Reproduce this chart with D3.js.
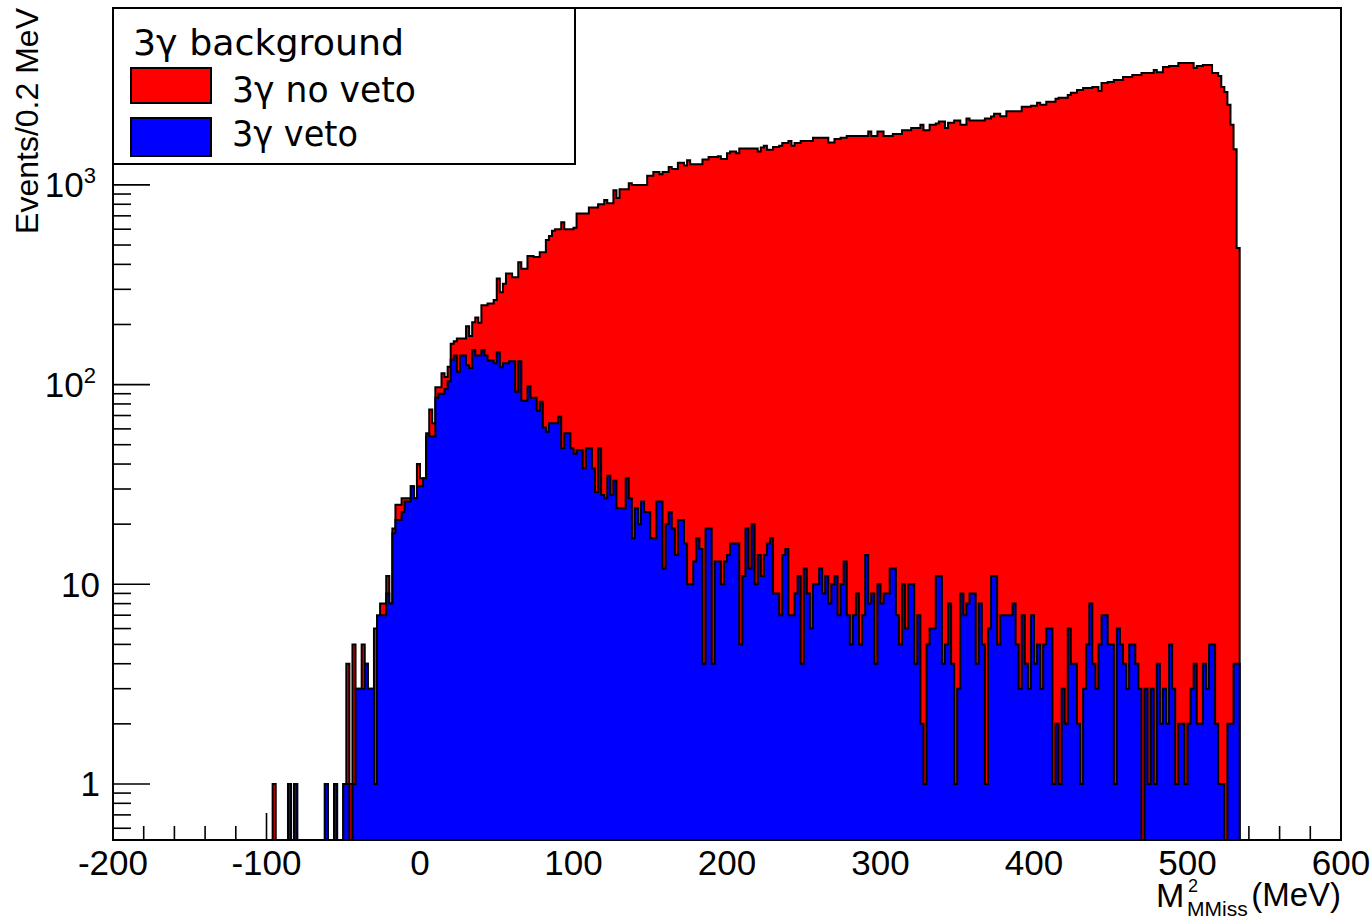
<!DOCTYPE html>
<html><head><meta charset="utf-8">
<script src="https://cdn.jsdelivr.net/npm/d3@7"></script>
<style>body{margin:0;background:#fff}svg{display:block}</style>
</head><body><svg id="c" width="1371" height="919"></svg>
<script>
// ---- data ----
const binLow = -100;   // lower edge of first bin (MeV)
const binWidth = 2;    // bin width (MeV)
const noVeto = [
0,0,1,0,0,0,0,1,0,1, 0,0,0,0,0,0,0,0,0,1, 0,0,1,0,0,1,4,1,5,3,
3,5,4,3,3,6,6,8,8,11, 8,19,25,25,27,27,27,31,27,40, 34,34,55,75,64,97,97,114,109,123,
160,165,170,170,170,196,175,205,217,204, 250,250,255,255,265,340,290,320,360,360,
345,345,410,380,380,440,440,435,435,460, 460,530,555,590,600,600,650,600,600,600,
610,720,720,720,720,770,770,770,800,800, 840,810,810,940,860,950,950,950,1020,1000,
1000,1000,1000,1000,1110,1110,1160,1160,1130,1160, 1160,1230,1200,1200,1290,1290,1250,1330,1270,1270,
1270,1270,1340,1340,1380,1380,1380,1390,1350,1350, 1440,1470,1470,1440,1520,1520,1520,1520,1520,1520,
1470,1540,1570,1500,1500,1550,1550,1570,1620,1620, 1660,1570,1620,1620,1660,1660,1660,1660,1720,1720,
1720,1720,1720,1630,1630,1700,1700,1720,1720,1760, 1760,1760,1760,1760,1760,1760,1850,1760,1760,1850,
1850,1760,1760,1760,1800,1800,1800,1880,1880,1880, 1930,1930,1930,2000,1880,1880,2000,2000,2030,2080,
2080,1930,2050,2050,2100,2100,2000,2000,2150,2100, 2100,2100,2100,2100,2150,2150,2200,2270,2270,2210,
2210,2340,2340,2340,2340,2340,2460,2460,2460,2490, 2490,2580,2520,2520,2610,2610,2610,2700,2730,2730,
2730,2820,2890,2890,2990,2990,3060,3060,3060,3090, 3090,2950,3240,3240,3280,3280,3350,3350,3350,3470,
3470,3470,3550,3550,3550,3630,3630,3630,3630,3760, 3670,3670,3890,3890,3940,3940,3940,4080,4080,4080,
4080,4080,3850,3940,3940,3980,3980,3980,3630,3630, 3510,3090,2920,2520,2000,1510,483
];
const veto = [
0,0,0,0,0,0,0,1,0,1, 0,0,0,0,0,0,0,0,0,1, 0,0,1,0,0,1,1,0,1,3,
3,3,4,3,3,1,7,7,7,9, 8,18,21,21,23,26,26,31,27,31, 31,34,57,55,55,86,90,90,95,104,
133,140,116,140,140,125,121,149,140,140, 149,140,132,132,128,145,122,128,128,131,
131,92,131,83,83,98,86,86,74,82, 61,58,64,64,64,69,48,57,57,48,
45,47,47,38,48,48,38,29,48,28, 27,35,28,33,24,24,24,34,27,17,
24,20,26,23,23,17,17,26,26,12, 20,23,19,14,21,21,16,10,10,13,
17,15,4,19,19,4,13,13,10,13, 14,16,16,16,5,11,19,12,20,10,
14,11,14,16,17,9,9,7,14,15, 7,7,9,11,4,12,9,6,10,10,
12,9,11,8,10,11,7,10,13,7, 5,7,9,5,7,14,8,9,4,10,
8,9,9,12,12,7,5,10,6,10, 10,4,7,2,1,5,6,6,11,11,
4,5,8,4,1,3,9,7,8,9, 9,4,8,5,1,6,11,11,5,7,
7,7,7,8,5,3,7,4,3,7, 4,5,3,5,6,6,1,2,1,3,
2,6,4,4,2,1,3,5,8,4, 3,5,7,7,5,5,1,6,5,4,
3,5,5,4,3,0,3,1,3,1, 4,2,3,2,5,3,1,2,2,1,
2,3,4,2,2,4,3,5,5,2, 1,1,0,2,2,4,4
];
const xTicks = [-200,-100,0,100,200,300,400,500,600];
const xTickLabels = ["-200","-100","0","100","200","300","400","500","600"];
const yTicks = [1,10,100,1000];
const yTickBase = ["1","10","10","10"];
const yTickExp = ["","","2","3"];
const legendTitle = "3\u03b3 background";
const seriesNames = ["3\u03b3 no veto","3\u03b3 veto"];
const seriesColors = ["#ff0000","#0000ff"];

// ---- layout ----
const F = {l:113, r:1341, t:8, b:840};
const x = d3.scaleLinear().domain([-200,600]).range([F.l,F.r]);
const y = d3.scaleLog().domain([0.524,7690]).range([F.b,F.t]);
const svg = d3.select("#c");
const AX = "'Liberation Sans', Arial, Helvetica, sans-serif";
const LG = "'DejaVu Sans', sans-serif";

svg.append("defs").append("clipPath").attr("id","clip")
  .append("rect").attr("x",F.l).attr("y",F.t).attr("width",F.r-F.l).attr("height",F.b-F.t);

// ticks (drawn under the histograms)
const gT = svg.append("g").attr("stroke","#000").attr("stroke-width",1.6);
d3.range(-200,601,20).forEach(v=>{
  const major = v%100===0;
  gT.append("line").attr("x1",x(v)).attr("x2",x(v)).attr("y1",F.b).attr("y2",F.b-(major?27:14));
});
const yMinor=[];
[0.1,1,10,100,1000].forEach(d=>{for(let m=2;m<=9;m++){const v=m*d; if(v>y.domain()[0]&&v<y.domain()[1]) yMinor.push(v);}});
yMinor.forEach(v=>gT.append("line").attr("x1",F.l).attr("x2",F.l+18).attr("y1",y(v)).attr("y2",y(v)));
yTicks.forEach(v=>gT.append("line").attr("x1",F.l).attr("x2",F.l+37).attr("y1",y(v)).attr("y2",y(v)));

// histograms
function stepPath(vals, close){
  const p = d3.path();
  p.moveTo(x(binLow),F.b);
  vals.forEach((v,i)=>{
    const yy = v>0 ? y(v) : F.b;
    p.lineTo(x(binLow+i*binWidth),yy);
    p.lineTo(x(binLow+(i+1)*binWidth),yy);
  });
  p.lineTo(x(binLow+vals.length*binWidth),F.b);
  if(close) p.closePath();
  return p.toString();
}
const gH = svg.append("g").attr("clip-path","url(#clip)");
[noVeto, veto].forEach((vals,si)=>{
  gH.append("path").attr("d",stepPath(vals,true)).attr("fill",seriesColors[si]).attr("stroke","none");
  gH.append("path").attr("d",stepPath(vals,false)).attr("fill","none").attr("stroke","#000")
    .attr("stroke-width",2).attr("stroke-linejoin","miter");
});

// frame
svg.append("rect").attr("x",F.l).attr("y",F.t).attr("width",F.r-F.l).attr("height",F.b-F.t)
  .attr("fill","none").attr("stroke","#000").attr("stroke-width",2);

// axis labels
xTicks.forEach((v,i)=>{
  svg.append("text").attr("x",x(v)).attr("y",875).attr("text-anchor","middle")
    .attr("font-family",AX).attr("font-size",35).text(xTickLabels[i]);
});
yTicks.forEach((v,i)=>{
  const t = svg.append("text").attr("x",yTickExp[i]?96:100).attr("y",y(v)+12.5).attr("text-anchor","end")
    .attr("font-family",AX).attr("font-size",35);
  t.append("tspan").text(yTickBase[i]);
  if(yTickExp[i]) t.append("tspan").attr("font-size",22).attr("dy",-14).text(yTickExp[i]);
});
svg.append("text").attr("transform","translate(38,8) rotate(-90)").attr("text-anchor","end")
  .attr("font-family",AX).attr("font-size",32).text("Events/0.2 MeV");
const xt = svg.append("g").attr("font-family",AX);
xt.append("text").attr("x",1156).attr("y",907).attr("font-size",34).text("M");
xt.append("text").attr("x",1188).attr("y",892).attr("font-size",18).text("2");
xt.append("text").attr("x",1187).attr("y",916).attr("font-size",21).text("MMiss");
xt.append("text").attr("x",1341).attr("y",906).attr("text-anchor","end").attr("font-size",33).text("(MeV)");

// legend
const lg = svg.append("g");
lg.append("rect").attr("x",113).attr("y",8).attr("width",462).attr("height",156)
  .attr("fill","#fff").attr("stroke","#000").attr("stroke-width",2);
lg.append("text").attr("x",133).attr("y",55).attr("font-family",LG).attr("font-size",35)
  .attr("textLength",271).attr("lengthAdjust","spacingAndGlyphs").text(legendTitle);
const swY=[68,118], swH=[35,38], txY=[102,146], txW=[184,126];
seriesNames.forEach((n,i)=>{
  lg.append("rect").attr("x",131).attr("y",swY[i]).attr("width",80).attr("height",swH[i])
    .attr("fill",seriesColors[i]).attr("stroke","#000").attr("stroke-width",2);
  lg.append("text").attr("x",232).attr("y",txY[i]).attr("font-family",LG).attr("font-size",35)
    .attr("textLength",txW[i]).attr("lengthAdjust","spacingAndGlyphs").text(n);
});
</script></body></html>
